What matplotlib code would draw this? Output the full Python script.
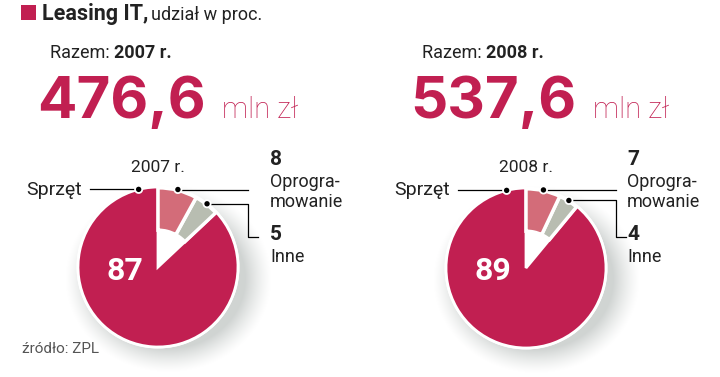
import numpy as np
import matplotlib.pyplot as plt
from matplotlib.patches import Wedge, Circle, Rectangle

# --- data ---
years = ["2007", "2008"]
totals = ["476,6", "537,6"]
categories = ["Sprzęt", "Inne", "Oprogramowanie"]
shares_2007 = [87, 5, 8]
shares_2008 = [89, 4, 7]

CRIMSON = "#C11F51"
PINK = "#D36C79"
GREY = "#B8BDB1"
DARK = "#222222"

W, H = 720, 377
plt.rcParams['font.family'] = ['Roboto', 'DejaVu Sans']

fig = plt.figure(figsize=(W / 100, H / 100), dpi=100)
ax = fig.add_axes([0, 0, 1, 1])
ax.set_xlim(0, W)
ax.set_ylim(0, H)
ax.set_aspect('equal')
ax.axis('off')
renderer = fig.canvas.get_renderer()


def Y(py):
    # pixel row (from top) -> data y
    return H - py


def text_after(t, y, s, gap=0, **kw):
    """Place s right after text t, on baseline y."""
    bb = t.get_window_extent(renderer)
    x_end = ax.transData.inverted().transform((bb.x1, bb.y0))[0]
    return ax.text(x_end + gap, Y(y), s, va='baseline', **kw)


def add_shadow(cx, cy, r):
    # soft grey shadow to the lower right of the pie
    x0, x1 = cx - r - 40, cx + r + 40
    y0, y1 = cy - r - 40, cy + r + 40
    xx, yy = np.meshgrid(np.arange(x0, x1), np.arange(y0, y1))
    d = np.hypot((xx - (cx + 10)) / 1.1, yy - (cy + 11))
    a = 0.75 * np.clip((r + 14 - d) / 24, 0, 1) ** 1.3
    img = np.zeros(xx.shape + (4,))
    img[..., :3] = np.array([0.76, 0.78, 0.77])
    img[..., 3] = a
    ax.imshow(img, extent=(x0, x1, Y(y1), Y(y0)), origin='upper',
              interpolation='bilinear', zorder=1)


def draw_panel(cx, cy, year, total, shares, num_x, total_x, mln_x, razem_x):
    r = 80
    # header
    t = ax.text(razem_x, Y(58), "Razem: ", fontsize=13, color=DARK, va='baseline')
    text_after(t, 58, f"{year} r.", fontsize=13, fontweight='bold', color=DARK)
    ax.text(total_x, Y(118), total, fontsize=42, fontweight='bold', color=CRIMSON,
            va='baseline', family=['Inter', 'DejaVu Sans'])
    ax.text(mln_x, Y(118), "mln zł", fontsize=21, fontweight='light', color=CRIMSON,
            va='baseline')

    # pie: main slice full radius, small slices as detached ring pieces
    add_shadow(cx, cy, r)
    c = (cx, Y(cy))
    ax.add_patch(Circle(c, r + 1.5, facecolor='white', edgecolor='none', zorder=2))
    bounds = 90 + np.cumsum([0] + list(shares)) / sum(shares) * 360
    ax.add_patch(Wedge(c, r, bounds[0], bounds[1], facecolor=CRIMSON,
                       edgecolor='white', linewidth=2, zorder=3))
    for i, col in [(1, GREY), (2, PINK)]:
        ax.add_patch(Wedge(c, r * 0.99, bounds[i], bounds[i + 1], width=r * 0.53,
                           facecolor=col, edgecolor='white', linewidth=2.5, zorder=3))
    ax.text(cx - 33, Y(271), str(shares[0]), fontsize=23, fontweight='bold',
            color='white', ha='center', va='center', zorder=5)
    ax.text(cx, Y(172), f"{year} r.", fontsize=12.5, color=DARK, ha='center',
            va='baseline')

    def dot(ang, rr=r):
        x = cx + rr * np.cos(np.radians(ang))
        y = Y(cy) + rr * np.sin(np.radians(ang))
        ax.add_patch(Circle((x, y), 3.6, facecolor='black', edgecolor='white',
                            linewidth=1.3, zorder=6))
        return x, y

    # Sprzet label
    ax.text(cx - 76, Y(195), categories[0], fontsize=14, color=DARK, ha='right',
            va='baseline')
    dx, dy = dot(104)
    ax.plot([cx - 68, dx], [dy, dy], color='black', lw=0.9, zorder=4)

    # Oprogramowanie label
    mid_o = (bounds[2] + bounds[3]) / 2
    dx, dy = dot(mid_o)
    ax.plot([dx, cx + 90], [dy, dy], color='black', lw=0.9, zorder=4)
    ax.text(num_x, Y(165), str(shares[2]), fontsize=15, fontweight='bold', color=DARK,
            va='baseline')
    ax.text(num_x, Y(187), "Oprogra-", fontsize=13, color=DARK, va='baseline')
    ax.text(num_x, Y(207), "mowanie", fontsize=13, color=DARK, va='baseline')

    # Inne label
    mid_i = (bounds[1] + bounds[2]) / 2
    dx, dy = dot(mid_i)
    ax.plot([dx, cx + 90, cx + 90, cx + 100], [dy, dy, Y(237), Y(237)],
            color='black', lw=0.9, zorder=4)
    ax.text(num_x, Y(240), str(shares[1]), fontsize=15, fontweight='bold', color=DARK,
            va='baseline')
    ax.text(num_x, Y(262), categories[1], fontsize=13, color=DARK, va='baseline')


# title
ax.add_patch(Rectangle((21, Y(20)), 15, 15, facecolor=CRIMSON, edgecolor='none'))
t = ax.text(42, Y(20), "Leasing IT,", fontsize=15.5, fontweight='bold', color=DARK,
            va='baseline')
text_after(t, 20, "udział w proc.", gap=3, fontsize=13, color=DARK)

draw_panel(158, 267, years[0], totals[0], shares_2007, num_x=270, total_x=37,
           mln_x=222, razem_x=50)
draw_panel(526, 268, years[1], totals[1], shares_2008, num_x=627, total_x=410,
           mln_x=593, razem_x=422)

ax.text(22, Y(353), "źródło: ZPL", fontsize=11, color="#555555", va='baseline')

fig.savefig("out.png", dpi=100)
